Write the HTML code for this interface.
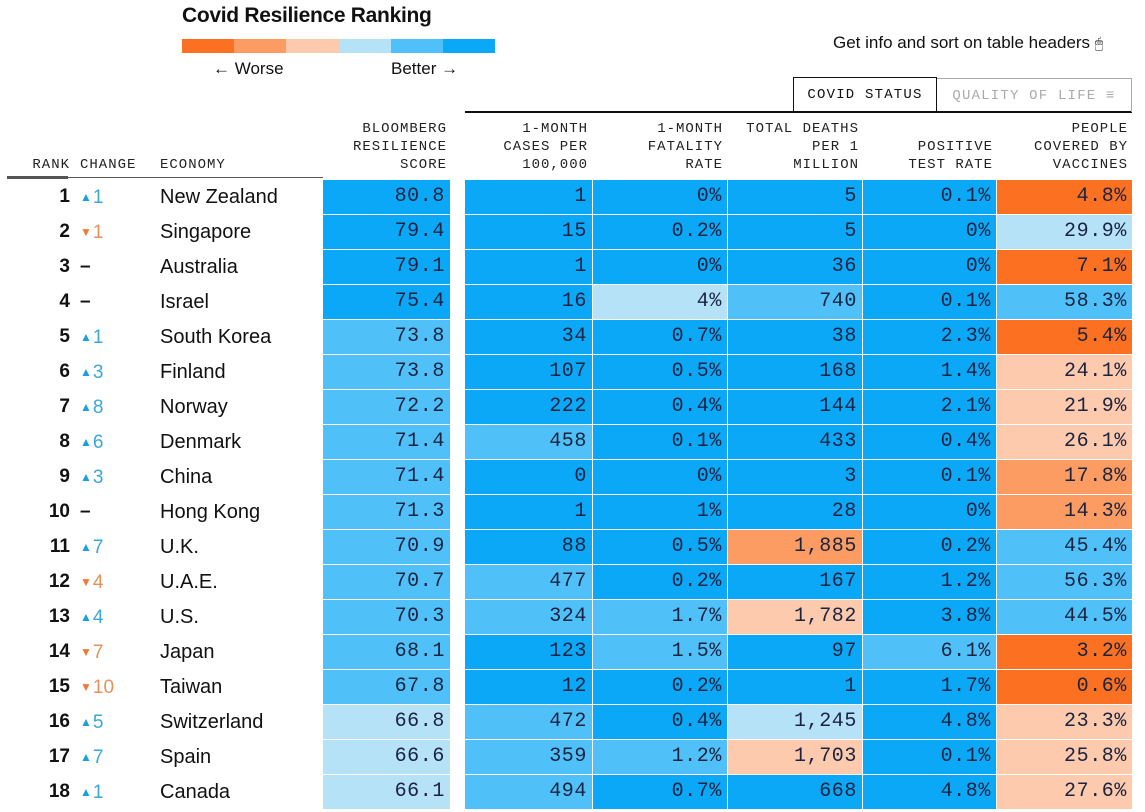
<!DOCTYPE html>
<html><head><meta charset="utf-8">
<style>
body{margin:0;width:1145px;height:812px;background:#fff;position:relative;overflow:hidden;font-family:"Liberation Sans",sans-serif;color:#111}
.a{position:absolute}
.mono{font-family:"Liberation Mono",monospace}
.hd{position:absolute;font-family:"Liberation Mono",monospace;font-size:14px;letter-spacing:1px;line-height:18px;text-align:right;color:#222}
.cell{position:absolute;height:34px;font-family:"Liberation Mono",monospace;font-size:20px;letter-spacing:0.6px;line-height:34px;text-align:right;box-sizing:border-box;padding-right:5px;color:#1a2340;border-right:1px solid #fff}
.rank{position:absolute;width:70px;text-align:right;font-weight:bold;font-size:19px;line-height:34px}
.chg{position:absolute;left:80px;font-size:19px;line-height:34px}
.chg span{font-size:12px;vertical-align:2px;margin-right:1px}
.eco{position:absolute;left:160px;font-size:20px;line-height:34px}
</style></head><body>
<div class="a" style="left:182px;top:4px;font-size:21px;font-weight:bold;letter-spacing:-0.3px">Covid Resilience Ranking</div>
<div class="a" style="left:182px;top:39px;width:313px;height:14px;display:flex">
<div style="flex:1;background:#fb7021"></div><div style="flex:1;background:#fd9c62"></div><div style="flex:1;background:#fdcaad"></div><div style="flex:1;background:#b6e2f8"></div><div style="flex:1;background:#4fc0f8"></div><div style="flex:1;background:#0aa8f6"></div></div>
<div class="a" style="left:213px;top:59px;font-size:17px">← Worse</div>
<div class="a" style="left:391px;top:59px;font-size:17px">Better →</div>
<div class="a" style="left:833px;top:33px;font-size:17px">Get info and sort on table headers <span style="font-size:14px">🖱</span></div>
<div class="a" style="left:465px;top:111px;width:667px;height:2px;background:#111"></div>
<div class="a mono" style="left:793px;top:77px;width:144px;height:35px;box-sizing:border-box;border:1.5px solid #111;border-bottom:none;font-size:14px;letter-spacing:1.2px;line-height:35px;text-align:center">COVID STATUS</div>
<div class="a mono" style="left:937px;top:78px;width:195px;height:34px;box-sizing:border-box;border:1px solid #aaa;border-left:none;border-bottom:none;font-size:14px;letter-spacing:1.2px;line-height:34px;text-align:center;color:#aaa">QUALITY OF LIFE ≡</div>
<div class="hd" style="left:20px;top:156px;width:50px">RANK</div>
<div class="hd" style="left:80px;top:156px;text-align:left">CHANGE</div>
<div class="hd" style="left:160px;top:156px;text-align:left">ECONOMY</div>
<div class="hd" style="left:323px;top:120px;width:124px">BLOOMBERG<br>RESILIENCE<br>SCORE</div>
<div class="hd" style="left:465px;top:120px;width:123px">1-MONTH<br>CASES PER<br>100,000</div>
<div class="hd" style="left:593px;top:120px;width:130px">1-MONTH<br>FATALITY<br>RATE</div>
<div class="hd" style="left:728px;top:120px;width:131px">TOTAL DEATHS<br>PER 1<br>MILLION</div>
<div class="hd" style="left:863px;top:120px;width:130px"><br>POSITIVE<br>TEST RATE</div>
<div class="hd" style="left:997px;top:120px;width:131px">PEOPLE<br>COVERED BY<br>VACCINES</div>
<div class="a" style="left:7px;top:177px;width:316px;height:1px;background:#555"></div>
<div class="a" style="left:7px;top:176px;width:61px;height:3px;background:#555"></div>
<div id="rows"></div>
<script>
const economies=["New Zealand","Singapore","Australia","Israel","South Korea","Finland","Norway","Denmark","China","Hong Kong","U.K.","U.A.E.","U.S.","Japan","Taiwan","Switzerland","Spain","Canada"];
const changes=[1,-1,0,0,1,3,8,6,3,0,7,-4,4,-7,-10,5,7,1];
const scores=["80.8","79.4","79.1","75.4","73.8","73.8","72.2","71.4","71.4","71.3","70.9","70.7","70.3","68.1","67.8","66.8","66.6","66.1"];
const cases=["1","15","1","16","34","107","222","458","0","1","88","477","324","123","12","472","359","494"];
const fatality=["0%","0.2%","0%","4%","0.7%","0.5%","0.4%","0.1%","0%","1%","0.5%","0.2%","1.7%","1.5%","0.2%","0.4%","1.2%","0.7%"];
const deaths=["5","5","36","740","38","168","144","433","3","28","1,885","167","1,782","97","1","1,245","1,703","668"];
const positive=["0.1%","0%","0%","0.1%","2.3%","1.4%","2.1%","0.4%","0.1%","0%","0.2%","1.2%","3.8%","6.1%","1.7%","4.8%","0.1%","4.8%"];
const vaccines=["4.8%","29.9%","7.1%","58.3%","5.4%","24.1%","21.9%","26.1%","17.8%","14.3%","45.4%","56.3%","44.5%","3.2%","0.6%","23.3%","25.8%","27.6%"];
const scoreLvl=[5,5,5,5,4,4,4,4,4,4,4,4,4,4,4,3,3,3];
const casesLvl=[5,5,5,5,5,5,5,4,5,5,5,4,4,5,5,4,4,4];
const fatLvl=[5,5,5,3,5,5,5,5,5,5,5,5,4,4,5,5,4,5];
const deathsLvl=[5,5,5,4,5,5,5,5,5,5,1,5,2,5,5,3,2,5];
const posLvl=[5,5,5,5,5,5,5,5,5,5,5,5,5,4,5,5,5,5];
const vacLvl=[0,3,0,4,0,2,2,2,1,1,4,4,4,0,0,2,2,2];
const palette=["#fb7021","#fd9c62","#fdcaad","#b6e2f8","#4fc0f8","#0aa8f6"];
const cols=[[323,128,scores,scoreLvl,"score"],[465,128,cases,casesLvl,"cases"],[593,135,fatality,fatLvl,"fatality"],[728,135,deaths,deathsLvl,"deaths"],[863,134,positive,posLvl,"positive"],[997,136,vaccines,vacLvl,"vaccines"]];
const root=document.getElementById('rows');
const y0=180,rh=35;
economies.forEach((name,i)=>{
  const y=y0+i*rh;
  const r=document.createElement('div');r.className='rank';r.style.top=y+'px';r.textContent=i+1;
  
  
  root.appendChild(r);
  const c=document.createElement('div');c.className='chg';c.style.top=y+'px';
  const v=changes[i];
  if(v>0){c.innerHTML='<span style="color:#1a9fe0">▲</span>'+v;c.style.color='#3aa6da';}
  else if(v<0){c.innerHTML='<span style="color:#f07a30">▼</span>'+(-v);c.style.color='#e8905a';}
  else{c.textContent='–';c.style.fontWeight='bold';}
  
  
  root.appendChild(c);
  const e=document.createElement('div');e.className='eco';e.style.top=y+'px';e.textContent=name;
  
  
  root.appendChild(e);
  cols.forEach(col=>{
    const d=document.createElement('div');d.className='cell';
    d.style.left=col[0]+'px';d.style.top=y+'px';d.style.width=col[1]+'px';
    d.style.background=palette[col[3][i]];d.textContent=col[2][i];
    
    
    root.appendChild(d);
  });
});
</script>
</body></html>
